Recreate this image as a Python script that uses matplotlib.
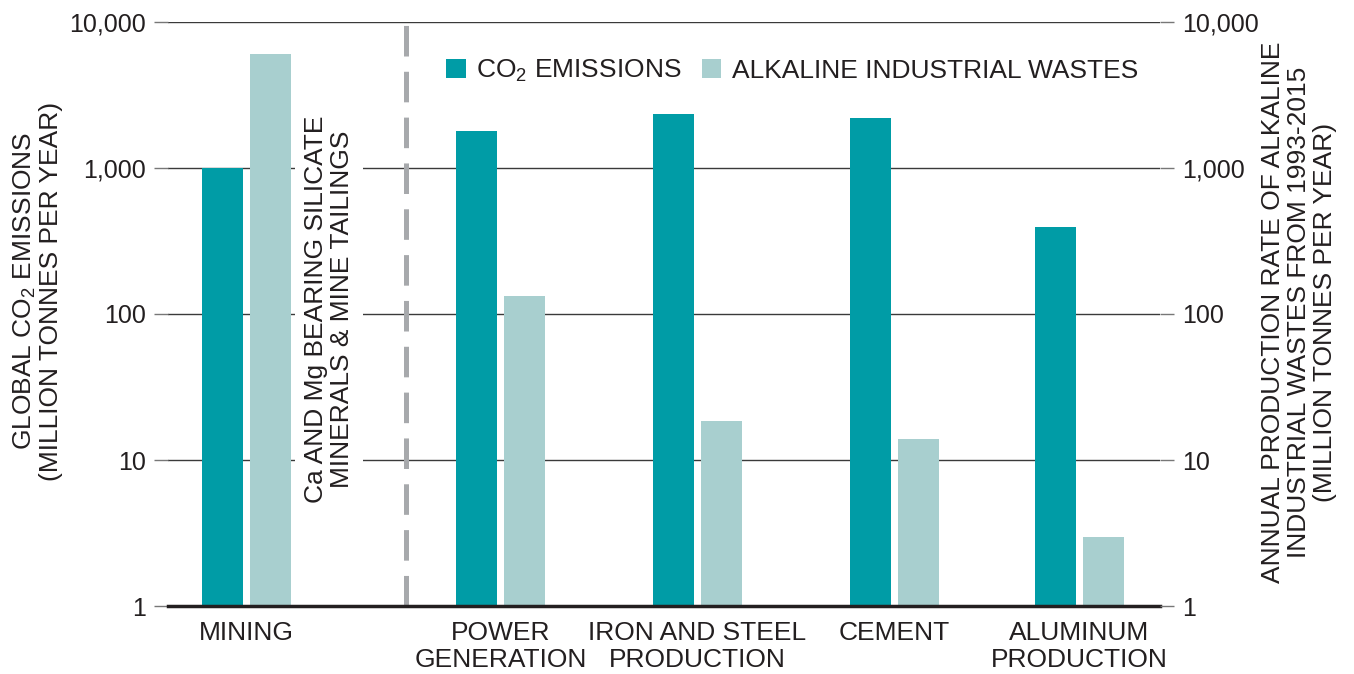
import matplotlib
matplotlib.use("Agg")
import matplotlib.pyplot as plt
from matplotlib.patches import Patch

plt.rcParams['font.family'] = ['Liberation Sans', 'DejaVu Sans']
plt.rcParams['mathtext.fontset'] = 'custom'
plt.rcParams['mathtext.rm'] = 'Liberation Sans'
plt.rcParams['mathtext.default'] = 'regular'
plt.rcParams['lines.scale_dashes'] = False

# ---- data ----
categories = ["MINING", "POWER\nGENERATION", "IRON AND STEEL\nPRODUCTION", "CEMENT", "ALUMINUM\nPRODUCTION"]
co2_emissions = [1000, 1790, 2340, 2200, 394]
alkaline_wastes = [6000, 133, 18.5, 14, 2.95]
y_ticks = [1, 10, 100, 1000, 10000]
y_tick_labels = ["1", "10", "100", "1,000", "10,000"]

# ---- layout (pixel space) ----
W, H = 1354, 674
DPI = 100
ax_left, ax_right, ax_top, ax_bottom = 168, 1160, 22, 606
group_x = [246, 500.5, 697.5, 894.5, 1079]
bar_w = 41
offset = 24
divider_x = 406

CO2_COLOR = "#009CA6"
ALK_COLOR = "#A8CFCF"
TEXT_COLOR = "#231F20"
FS_TICK = 18
FS = 19

fig = plt.figure(figsize=(W / DPI, H / DPI), dpi=DPI)
ax = fig.add_axes([ax_left / W, (H - ax_bottom) / H,
                   (ax_right - ax_left) / W, (ax_bottom - ax_top) / H])
ax.set_xlim(ax_left, ax_right)
ax.set_yscale('log')
ax.set_ylim(1, 10000)

ax.bar([g - offset for g in group_x], co2_emissions, width=bar_w, color=CO2_COLOR, zorder=3)
ax.bar([g + offset for g in group_x], alkaline_wastes, width=bar_w, color=ALK_COLOR, zorder=3)

ax.set_yticks(y_ticks)
ax.set_yticklabels(y_tick_labels)
ax.yaxis.set_minor_locator(matplotlib.ticker.NullLocator())
ax.grid(axis='y', color='#3a3a3a', lw=1.0, zorder=1)
ax.tick_params(axis='y', length=10, width=1, color='#777777', labelsize=FS_TICK, labelcolor=TEXT_COLOR, pad=6)

ax.set_xticks(group_x)
ax.set_xticklabels(categories, fontsize=FS, color=TEXT_COLOR, linespacing=1.12)
ax.tick_params(axis='x', length=0, pad=11)

for s in ['top', 'left', 'right']:
    ax.spines[s].set_visible(False)
ax.spines['bottom'].set_color('#231F20')
ax.spines['bottom'].set_linewidth(2.5)
ax.spines['bottom'].set_zorder(4)

ax2 = ax.twinx()
ax2.set_yscale('log')
ax2.set_ylim(1, 10000)
ax2.set_yticks(y_ticks)
ax2.set_yticklabels(y_tick_labels)
ax2.yaxis.set_minor_locator(matplotlib.ticker.NullLocator())
ax2.tick_params(axis='y', length=10, width=1, color='#777777', labelsize=FS_TICK, labelcolor=TEXT_COLOR, pad=6)
for s in ax2.spines.values():
    s.set_visible(False)

# dashed divider
ax.axvline(divider_x, color='#A7A9AC', lw=3.6, dashes=(22, 11), zorder=2)

# vertical annotation with white background to interrupt gridlines
ax.text(329, 10 ** ((606 - 309) / 146), "Ca AND Mg BEARING SILICATE\nMINERALS & MINE TAILINGS",
        rotation=90, ha='center', va='center', fontsize=FS, color=TEXT_COLOR, linespacing=1.12,
        bbox=dict(facecolor='white', edgecolor='none', pad=6), zorder=2.5)

def fx(px):
    return px / W

def fy(py):
    return (H - py) / H

fig.text(fx(37), fy(291), "GLOBAL CO$_2$ EMISSIONS\n(MILLION TONNES PER YEAR)", rotation=90,
         ha='center', va='center', fontsize=FS, color=TEXT_COLOR, linespacing=1.05)
fig.text(fx(1299), fy(312), "ANNUAL PRODUCTION RATE OF ALKALINE\nINDUSTRIAL WASTES FROM 1993-2015\n(MILLION TONNES PER YEAR)",
         rotation=90, ha='center', va='center', fontsize=FS, color=TEXT_COLOR, linespacing=1.12)

handles = [Patch(facecolor=CO2_COLOR, edgecolor='none'), Patch(facecolor=ALK_COLOR, edgecolor='none')]
fig.legend(handles, ["CO$_2$ EMISSIONS", "ALKALINE INDUSTRIAL WASTES"], loc='center left',
           bbox_to_anchor=(fx(446), fy(71)), ncol=2, frameon=False, fontsize=FS,
           handlelength=0.75, handleheight=0.75, handletextpad=0.4, columnspacing=0.75,
           labelcolor=TEXT_COLOR, borderaxespad=0, borderpad=0)

fig.savefig("out.png", dpi=DPI)
